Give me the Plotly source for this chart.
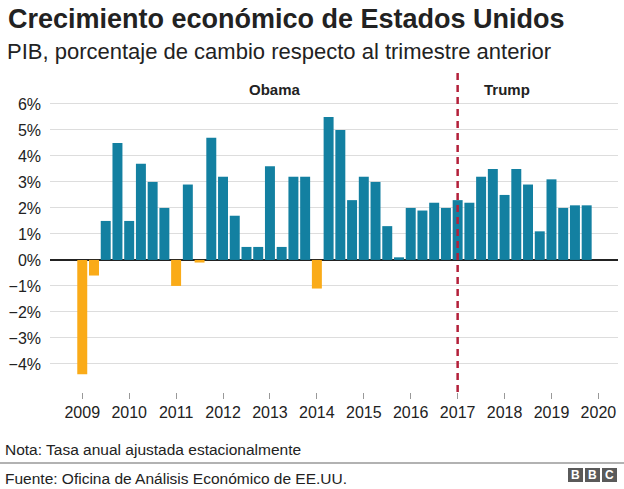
import plotly.graph_objects as go

# ---- data ----
quarters = [f"{y} T{q}" for y in range(2009, 2020) for q in range(1, 5)]
gdp_growth = [
    -4.4, -0.6, 1.5, 4.5,
    1.5, 3.7, 3.0, 2.0,
    -1.0, 2.9, -0.1, 4.7,
    3.2, 1.7, 0.5, 0.5,
    3.6, 0.5, 3.2, 3.2,
    -1.1, 5.5, 5.0, 2.3,
    3.2, 3.0, 1.3, 0.1,
    2.0, 1.9, 2.2, 2.0,
    2.3, 2.2, 3.2, 3.5,
    2.5, 3.5, 2.9, 1.1,
    3.1, 2.0, 2.1, 2.1,
]
year_labels = [str(y) for y in range(2009, 2021)]
y_ticks = [6, 5, 4, 3, 2, 1, 0, -1, -2, -3, -4]
y_tick_labels = [f"{v}%" if v >= 0 else f"\u2212{abs(v)}%" for v in y_ticks]
trump_start = "2017 T1"

BLUE = "#1380A1"
ORANGE = "#FAAB18"
RED = "#b3203a"
FONT = "Liberation Sans, Arial, Helvetica, sans-serif"

W, H = 624, 489
PL, PR, PT, PB = 50, 618, 73, 392


def px_x(x):
    return (x - PL) / (PR - PL)


def px_y(y):
    return (PB - y) / (PB - PT)


idx = list(range(len(quarters)))
colors = [BLUE if v >= 0 else ORANGE for v in gdp_growth]
trump_idx = quarters.index(trump_start)

fig = go.Figure()
fig.add_trace(go.Bar(
    x=idx, y=gdp_growth, marker=dict(color=colors, line=dict(width=0)),
    hovertext=quarters, showlegend=False,
))

fig.update_layout(
    width=W, height=H,
    margin=dict(l=PL, r=W - PR, t=PT, b=H - PB, pad=0),
    paper_bgcolor="white", plot_bgcolor="white",
    bargap=0.15,
    font=dict(family=FONT, color="#222222"),
    xaxis=dict(
        range=[-2.75, 45.67],
        tickvals=[i * 4 for i in range(len(year_labels))],
        ticktext=year_labels,
        ticks="outside", ticklen=6, tickcolor="#999999", tickwidth=1,
        showgrid=False, zeroline=False, showline=False,
        tickfont=dict(size=16, color="#222222"),
    ),
    yaxis=dict(
        range=[-5.08, 7.19],
        tickvals=y_ticks, ticktext=y_tick_labels,
        showgrid=True, gridcolor="#dddddd", gridwidth=1,
        zeroline=True, zerolinecolor="#222222", zerolinewidth=1.5,
        showline=False, ticks="",
        ticklabelstandoff=8,
        tickfont=dict(size=16, color="#222222"),
    ),
)

# Trump dashed line
fig.add_shape(type="line", xref="x", yref="paper",
              x0=trump_idx, x1=trump_idx, y0=0, y1=1,
              line=dict(color=RED, width=2.5, dash="7px,5px"))

# Period labels
fig.add_annotation(x=16.4, y=6.54, xref="x", yref="y", text="<b>Obama</b>",
                   showarrow=False, font=dict(size=15, color="#222222"))
fig.add_annotation(x=36.2, y=6.54, xref="x", yref="y", text="<b>Trump</b>",
                   showarrow=False, font=dict(size=15, color="#222222"))

# Title and subtitle
fig.add_annotation(x=px_x(6), y=px_y(19), xref="paper", yref="paper",
                   xanchor="left", yanchor="middle",
                   text="<b>Crecimiento económico de Estados Unidos</b>",
                   showarrow=False, font=dict(size=27, color="#222222"))
fig.add_annotation(x=px_x(5), y=px_y(51), xref="paper", yref="paper",
                   xanchor="left", yanchor="middle",
                   text="PIB, porcentaje de cambio respecto al trimestre anterior",
                   showarrow=False, font=dict(size=22, color="#222222"))

# Footer
fig.add_annotation(x=px_x(3), y=px_y(449), xref="paper", yref="paper",
                   xanchor="left", yanchor="middle",
                   text="Nota: Tasa anual ajustada estacionalmente",
                   showarrow=False, font=dict(size=15.5, color="#222222"))
fig.add_shape(type="line", xref="paper", yref="paper",
              x0=px_x(0), x1=px_x(624), y0=px_y(463), y1=px_y(463),
              line=dict(color="#999999", width=1.5))
fig.add_annotation(x=px_x(3), y=px_y(478), xref="paper", yref="paper",
                   xanchor="left", yanchor="middle",
                   text="Fuente: Oficina de Análisis Económico de EE.UU.",
                   showarrow=False, font=dict(size=15.5, color="#222222"))

# BBC logo
for i, letter in enumerate("BBC"):
    x0 = 568 + i * 17
    fig.add_shape(type="rect", xref="paper", yref="paper",
                  x0=px_x(x0), x1=px_x(x0 + 15), y0=px_y(468), y1=px_y(482),
                  fillcolor="#5a5a5a", line=dict(width=0))
    fig.add_annotation(x=px_x(x0 + 7.5), y=px_y(475), xref="paper", yref="paper",
                       text=f"<b>{letter}</b>", showarrow=False,
                       xanchor="center", yanchor="middle",
                       font=dict(size=12, color="white", family="Liberation Sans, Arial"))

fig.write_html("out.html")
